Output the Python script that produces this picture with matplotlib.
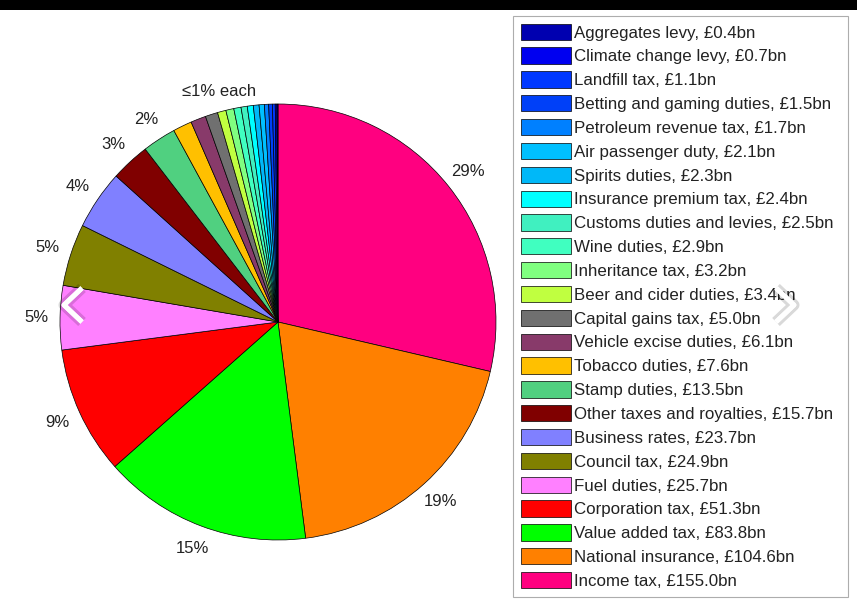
import numpy as np
import matplotlib
matplotlib.use("Agg")
import matplotlib.pyplot as plt
from matplotlib.patches import Rectangle
from matplotlib.lines import Line2D
import matplotlib.patheffects as pe

plt.rcParams['font.family'] = ['Liberation Sans', 'DejaVu Sans']

# pie order: clockwise from 12 o'clock
taxes = ["Income tax", "National insurance", "Value added tax", "Corporation tax",
         "Fuel duties", "Council tax", "Business rates", "Other taxes and royalties",
         "Stamp duties", "Tobacco duties", "Vehicle excise duties", "Capital gains tax",
         "Beer and cider duties", "Inheritance tax", "Wine duties",
         "Customs duties and levies", "Insurance premium tax", "Spirits duties",
         "Air passenger duty", "Petroleum revenue tax", "Betting and gaming duties",
         "Landfill tax", "Climate change levy", "Aggregates levy"]
revenue = [155.0, 104.6, 83.8, 51.3, 25.7, 24.9, 23.7, 15.7, 13.5, 7.6, 6.1, 5.0,
           3.4, 3.2, 2.9, 2.5, 2.4, 2.3, 2.1, 1.7, 1.5, 1.1, 0.7, 0.4]
colors = ["#ff0080", "#ff8000", "#00ff00", "#ff0000", "#ff80ff", "#808000",
          "#8080ff", "#800000", "#50d080", "#ffc000", "#883a6a", "#707070",
          "#c0ff40", "#80ff80", "#40ffc0", "#40f0c0", "#00ffff", "#00b8f8",
          "#00c0ff", "#0080ff", "#0040f8", "#0038ff", "#0000f0", "#0000b0"]
pct_labels = ["29%", "19%", "15%", "9%", "5%", "5%", "4%", "3%", "2%"]
small_label = "\u22641% each"

W, H = 857, 600
fig = plt.figure(figsize=(W / 100, H / 100), dpi=100)
fig.patch.set_facecolor("white")

# black strip at top of screenshot
fig.add_artist(Rectangle((0, 1 - 10 / H), 1, 10 / H, transform=fig.transFigure,
                         facecolor="black", edgecolor="none"))

cx, cy, r = 278, 322, 218
ax = fig.add_axes([(cx - r) / W, (H - cy - r) / H, 2 * r / W, 2 * r / H])
wedges, _ = ax.pie(revenue, colors=colors, startangle=90, counterclock=False,
                   radius=1, wedgeprops=dict(edgecolor="black", linewidth=0.5))
ax.set_xlim(-1, 1)
ax.set_ylim(-1, 1)
ax.axis("off")

for w, lab in zip(wedges, pct_labels):
    ang = np.deg2rad((w.theta1 + w.theta2) / 2)
    ax.text(1.11 * np.cos(ang), 1.11 * np.sin(ang), lab, ha="center", va="center",
            fontsize=12, color="#222222")

n = len(pct_labels)
ang = np.deg2rad((wedges[n].theta2 + wedges[-1].theta1) / 2)
ax.text(1.09 * np.cos(ang), 1.09 * np.sin(ang), small_label, ha="center",
        va="center", fontsize=12, color="#222222")

leg_labels = ["%s, \u00a3%.1fbn" % (t, v) for t, v in zip(taxes, revenue)]
handles = wedges[::-1]
lx0, lx1, ly0 = 513, 848, 16
leg = fig.legend(handles, leg_labels[::-1], loc="upper left", mode="expand",
                 bbox_to_anchor=(lx0 / W, 0, (lx1 - lx0) / W, 1 - ly0 / H),
                 bbox_transform=fig.transFigure,
                 borderaxespad=0, fontsize=12.2, handlelength=2.95, handleheight=1.1,
                 handletextpad=0.18, labelspacing=0.41, borderpad=0.45,
                 fancybox=False, frameon=True, edgecolor="#999999")
leg.get_frame().set_linewidth(0.8)
for t in leg.get_texts():
    t.set_color("#222222")

# carousel arrows overlaid on the screenshot
shadow = [pe.withStroke(linewidth=8, foreground=(0, 0, 0, 0.15)), pe.Normal()]
for xs, ys in [([82, 64, 82], [288, 305, 322]), ([776, 794, 776], [288, 305, 322])]:
    fig.add_artist(Line2D(np.array(xs) / W, 1 - np.array(ys) / H,
                          transform=fig.transFigure, color="white", linewidth=3.5,
                          solid_capstyle="butt", path_effects=shadow, zorder=20))

fig.savefig("out.png", dpi=100)
